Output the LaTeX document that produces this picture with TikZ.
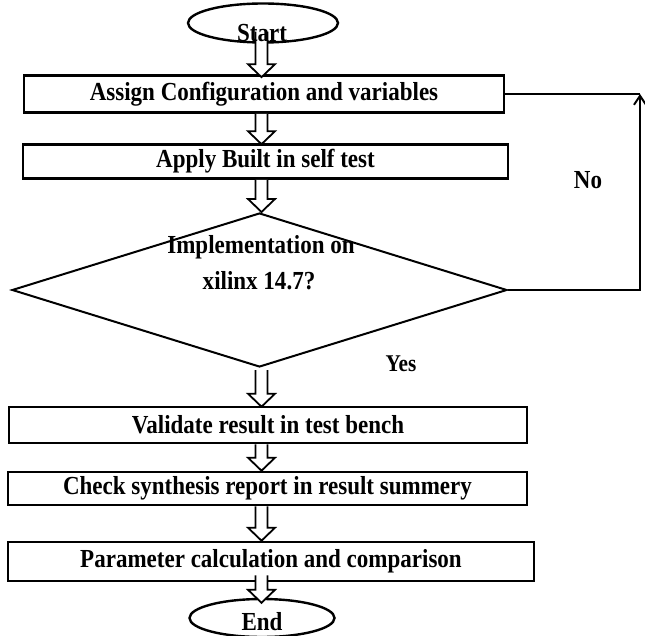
\documentclass[tikz,border=0pt]{standalone}
\usepackage{fontspec}
\setmainfont{Liberation Serif}
\newfontfamily\tallserif[FakeStretch=0.885]{Liberation Serif}
\usetikzlibrary{shapes.geometric,arrows.meta,calc}
\tikzset{
  txt/.style={font=\tallserif\bfseries\fontsize{26}{30}\selectfont, inner sep=0pt},
  box/.style={draw, line width=2.6pt, inner sep=0pt, txt},
  term/.style={ellipse, draw, line width=2.4pt, inner sep=0pt, fill=white},
  dec/.style={diamond, draw, line width=2pt, inner sep=0pt},
  loopline/.style={line width=2pt},
  harrow/.style={line width=1.8pt, line join=miter},
}
\newcommand{\hollowarrow}[2]{%
  \fill[white] let \p1=#1, \p2=#2 in
    (\x1-6pt,\y1) -- (\x1-6pt,\y2+13pt) -- (\x1-13.5pt,\y2+13pt) -- (\x1,\y2)
    -- (\x1+13.5pt,\y2+13pt) -- (\x1+6pt,\y2+13pt) -- (\x1+6pt,\y1) -- cycle;
  \draw[harrow] let \p1=#1, \p2=#2 in
    (\x1-6pt,\y1) -- (\x1-6pt,\y2+13pt) -- (\x1-13.5pt,\y2+13pt) -- (\x1,\y2)
    -- (\x1+13.5pt,\y2+13pt) -- (\x1+6pt,\y2+13pt) -- (\x1+6pt,\y1);
}
\begin{document}
\begin{tikzpicture}[x=1pt,y=1pt]
\useasboundingbox (0,0) rectangle (645,-636);
\fill[white] (0,0) rectangle (645,-636);
\coordinate (col) at (261.5,0);

% shapes
\node[term, minimum width=150pt, minimum height=39pt] (start) at (263,-23) {};
\node[box, minimum width=480pt, minimum height=37pt] (b1) at (264,-94) {Assign Configuration and variables};
\node[box, minimum width=485pt, minimum height=34pt] (b2) at (265.5,-161.5) {Apply Built in self test};
\node[dec, minimum width=495pt, minimum height=154pt] (dia) at (259.5,-290) {};
\node[box, minimum width=518pt, minimum height=36pt] (b3) at (268,-425) {Validate result in test bench};
\node[box, minimum width=519pt, minimum height=33pt] (b4) at (267.5,-488.5) {Check synthesis report in result summery};
\node[box, minimum width=526pt, minimum height=39pt] (b5) at (271,-561.5) {Parameter calculation and comparison};
\node[term, minimum width=145pt, minimum height=38pt] (end) at (262,-618) {};

% block arrows
\hollowarrow{([yshift=12pt]start.south -| col)}{([yshift=-3pt]b1.north -| col)}
\hollowarrow{(b1.south -| col)}{([yshift=-1pt]b2.north -| col)}
\hollowarrow{(b2.south -| col)}{(dia.north -| col)}
\hollowarrow{([yshift=-2pt]dia.south -| col)}{([yshift=-1pt]b3.north -| col)}
\hollowarrow{(b3.south -| col)}{(b4.north -| col)}
\hollowarrow{(b4.south -| col)}{(b5.north -| col)}
\hollowarrow{([yshift=7pt]b5.south -| col)}{([yshift=-5pt]end.north -| col)}

% texts in terminals and decision
\node[txt, anchor=base] (startlbl) at (262,-42) {Start};
\node[txt, anchor=base] (endlbl) at (262,-630) {End};
\node[txt, anchor=base] (dia1) at (261,-254) {Implementation on};
\node[txt, anchor=base] (dia2) at (259,-290) {xilinx 14.7?};

% No loop
\coordinate (lc) at (640,-94);
\draw[loopline, -{Straight Barb[length=9pt,width=12pt]}] (dia.east) -| (lc);
\draw[loopline] (lc) -- (b1.east);

% labels
\node[txt, anchor=base] (nolbl) at (588,-189) {No};
\node[txt, anchor=base, font=\tallserif\bfseries\fontsize{24}{28}\selectfont] (yeslbl) at (401,-371) {Yes};
\end{tikzpicture}
\end{document}
